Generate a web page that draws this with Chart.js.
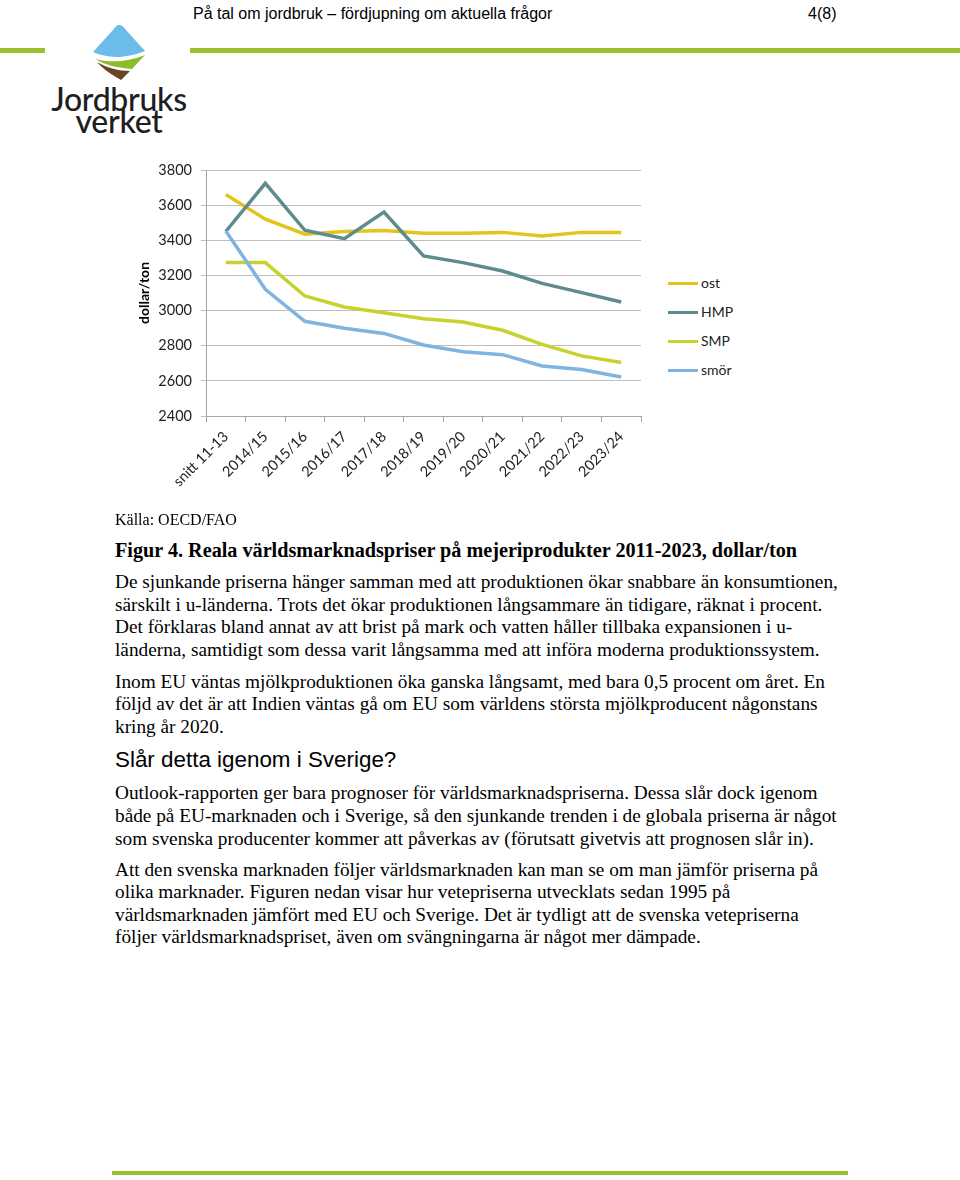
<!DOCTYPE html>
<html>
<head>
<meta charset="utf-8">
<script src="https://cdn.jsdelivr.net/npm/chart.js@4"></script>
<style>
  html, body { margin:0; padding:0; background:#fff; }
  body { width:960px; height:1180px; position:relative; overflow:hidden; }
  .abs { position:absolute; white-space:nowrap; }
  .hdr { font-family:"Liberation Sans", Arial, sans-serif; font-size:16px; color:#000; }
  .txt { font-family:"Liberation Serif", "Times New Roman", serif; font-size:19.3px; color:#000; line-height:22px; }
  .leg { font-family:Lato, "Open Sans", sans-serif; font-size:14px; color:#222; }
  .logo { font-family:Lato, "Open Sans", sans-serif; font-size:32px; font-weight:500; color:#1e1e1e; line-height:22px; text-align:center; width:160px; left:39px; top:88px; letter-spacing:-0.3px; }
</style>
</head>
<body>
<div class="abs hdr" style="left:193px; top:5px;">På tal om jordbruk – fördjupning om aktuella frågor</div>
<div class="abs hdr" style="left:808px; top:5px;">4(8)</div>
<div class="abs" style="left:0; top:48px; width:45px; height:5px; background:#9BC12E;"></div>
<div class="abs" style="left:190px; top:48px; width:770px; height:5px; background:#9BC12E;"></div>

<svg class="abs" style="left:0; top:0;" width="200" height="90" viewBox="0 0 200 90">
  <path d="M119,25 C117,25 115,27 113,30 L93,52 C101,56 112,57 120,57 C130,56 138,54 145,51 L126,30 C124,27 122,25 119,25 Z" fill="#6BBCE8"/>
  <path d="M95,59 C110,63 128,62 145,55 L132,69 C118,68 105,65 95,59 Z" fill="#8DBE2A"/>
  <path d="M97,62 C107,68 119,71 130,71 L121,80 C112,75 103,69 97,62 Z" fill="#6B4324"/>
</svg>
<div class="abs logo">Jordbruks<br>verket</div>

<div class="abs" style="left:120px; top:150px; width:540px; height:360px;">
  <canvas id="c" width="540" height="360"></canvas>
</div>
<div id="legend"></div>

<div class="abs txt" style="left:115px; top:509px; font-size:16px;">Källa: OECD/FAO</div>
<div class="abs txt" style="left:115px; top:539px; font-weight:bold; font-size:20.2px;">Figur 4. Reala världsmarknadspriser på mejeriprodukter 2011-2023, dollar/ton</div>
<div class="abs txt" style="left:115px; top:571px;">De sjunkande priserna hänger samman med att produktionen ökar snabbare än konsumtionen,</div>
<div class="abs txt" style="left:115px; top:594px;">särskilt i u-länderna. Trots det ökar produktionen långsammare än tidigare, räknat i procent.</div>
<div class="abs txt" style="left:115px; top:616px;">Det förklaras bland annat av att brist på mark och vatten håller tillbaka expansionen i u-</div>
<div class="abs txt" style="left:115px; top:639px;">länderna, samtidigt som dessa varit långsamma med att införa moderna produktionssystem.</div>
<div class="abs txt" style="left:115px; top:671px;">Inom EU väntas mjölkproduktionen öka ganska långsamt, med bara 0,5 procent om året. En</div>
<div class="abs txt" style="left:115px; top:693px;">följd av det är att Indien väntas gå om EU som världens största mjölkproducent någonstans</div>
<div class="abs txt" style="left:115px; top:716px;">kring år 2020.</div>
<div class="abs hdr" style="left:115px; top:747px; font-size:22.4px;">Slår detta igenom i Sverige?</div>
<div class="abs txt" style="left:115px; top:782px;">Outlook-rapporten ger bara prognoser för världsmarknadspriserna. Dessa slår dock igenom</div>
<div class="abs txt" style="left:115px; top:805px;">både på EU-marknaden och i Sverige, så den sjunkande trenden i de globala priserna är något</div>
<div class="abs txt" style="left:115px; top:828px;">som svenska producenter kommer att påverkas av (förutsatt givetvis att prognosen slår in).</div>
<div class="abs txt" style="left:115px; top:859px;">Att den svenska marknaden följer världsmarknaden kan man se om man jämför priserna på</div>
<div class="abs txt" style="left:115px; top:881px;">olika marknader. Figuren nedan visar hur vetepriserna utvecklats sedan 1995 på</div>
<div class="abs txt" style="left:115px; top:904px;">världsmarknaden jämfört med EU och Sverige. Det är tydligt att de svenska vetepriserna</div>
<div class="abs txt" style="left:115px; top:926px;">följer världsmarknadspriset, även om svängningarna är något mer dämpade.</div>

<div class="abs" style="left:112px; top:1171px; width:736px; height:4px; background:#99BD2F; box-shadow:0 0 1px #cfe59a;"></div>

<script>
const categories = ["snitt 11-13","2014/15","2015/16","2016/17","2017/18","2018/19","2019/20","2020/21","2021/22","2022/23","2023/24"];
const ost  = [3660, 3520, 3435, 3450, 3455, 3440, 3440, 3445, 3425, 3445, 3445];
const hmp  = [3450, 3724, 3457, 3409, 3561, 3311, 3273, 3225, 3155, 3102, 3049];
const smp  = [3273, 3273, 3083, 3020, 2988, 2954, 2935, 2888, 2808, 2742, 2704];
const smor = [3453, 3121, 2939, 2899, 2870, 2804, 2766, 2749, 2685, 2665, 2622];
const seriesNames = ["ost", "HMP", "SMP", "smör"];
const seriesColors = ["#E4C41B", "#5E8C8E", "#C7D22D", "#7FB4E0"];
const yTicks = [2400, 2600, 2800, 3000, 3200, 3400, 3600, 3800];

const seriesData = [ost, hmp, smp, smor];
const FONT = "Lato, 'Open Sans', sans-serif";

new Chart(document.getElementById('c'), {
  type: 'line',
  data: {
    labels: categories,
    datasets: seriesData.map((d, i) => ({
      label: seriesNames[i],
      data: d,
      borderColor: seriesColors[i],
      backgroundColor: seriesColors[i],
      borderWidth: 3.5,
      pointRadius: 0,
      tension: 0,
      fill: false,
      order: 4 - i
    }))
  },
  options: {
    responsive: false,
    animation: false,
    devicePixelRatio: 1,
    layout: { padding: { top: 20, right: 19, left: 0, bottom: 0 } },
    plugins: { legend: { display: false }, tooltip: { enabled: false } },
    scales: {
      x: {
        offset: true,
        grid: { offset: true, drawOnChartArea: false, tickLength: 6, color: '#A6A6A6' },
        border: { color: '#A6A6A6' },
        ticks: { font: { family: FONT, size: 14.5 }, color: '#222', minRotation: 45, maxRotation: 45, padding: 6 },
        afterFit: s => { s.height = 94; }
      },
      y: {
        min: yTicks[0], max: yTicks[yTicks.length - 1],
        afterBuildTicks: s => { s.ticks = yTicks.map(v => ({ value: v })); },
        grid: { color: '#BFBFBF', tickLength: 5 },
        border: { color: '#A6A6A6' },
        ticks: { font: { family: FONT, size: 14.5 }, color: '#222', padding: 9, callback: v => String(v) },
        title: { display: true, text: 'dollar/ton', font: { family: FONT, size: 14, weight: 'bold' }, color: '#000', padding: { top: 16, bottom: 0 } },
        afterFit: s => { s.width = 86; }
      }
    }
  }
});

// legend (HTML) built from series arrays
const legendTops = [283, 312, 341, 370];
const lg = document.getElementById('legend');
seriesNames.forEach((n, i) => {
  const line = document.createElement('div');
  line.className = 'abs';
  line.style.cssText = `left:668px; top:${legendTops[i] - 1.5}px; width:30px; height:3px; background:${seriesColors[i]};`;
  lg.appendChild(line);
  const t = document.createElement('div');
  t.className = 'abs leg';
  t.style.cssText = `left:701px; top:${legendTops[i] - 9}px;`;
  t.textContent = n;
  lg.appendChild(t);
});
</script>
</body>
</html>
